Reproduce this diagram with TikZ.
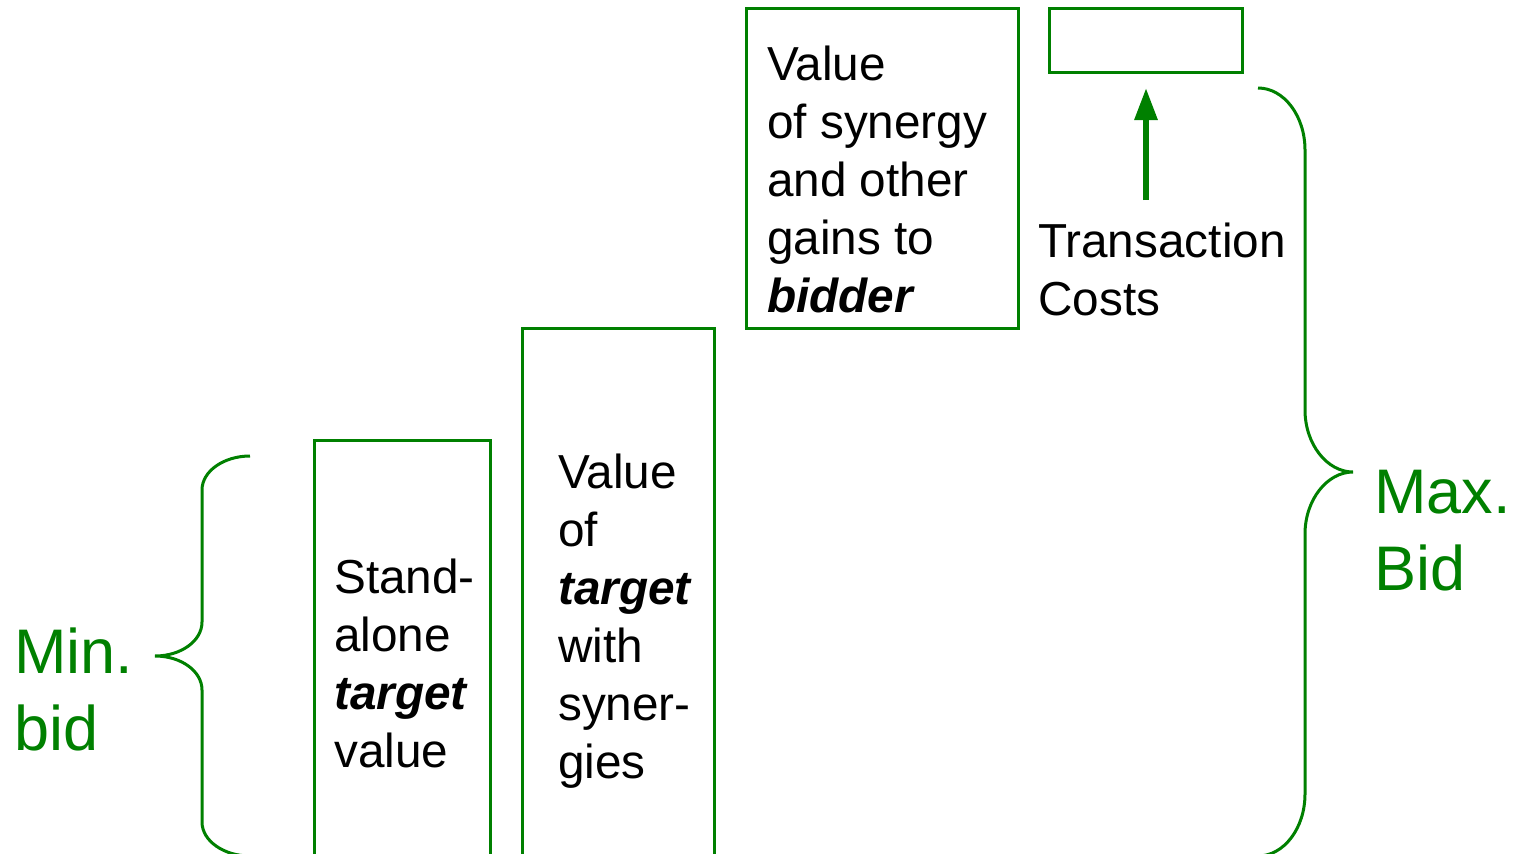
\documentclass[tikz,border=0pt]{standalone}
\usepackage{fontspec}
\setmainfont{Liberation Sans}
\usetikzlibrary{arrows.meta}
\definecolor{grn}{RGB}{0,128,0}
\begin{document}
\begin{tikzpicture}[x=1pt,y=-1pt,
  boxstyle/.style={draw=grn,line width=3pt,inner sep=0pt,outer sep=0pt,anchor=north west},
  txt/.style={anchor=base west,inner sep=0pt,font=\fontsize{47.7}{58}\selectfont},
  big/.style={anchor=base west,inner sep=0pt,text=grn,font=\fontsize{63}{77}\selectfont},
  brace/.style={draw=grn,line width=3pt}]
\useasboundingbox (0,0) rectangle (1518,854);
\clip (0,0) rectangle (1518,854);
% boxes
\node[boxstyle,minimum width=176pt,minimum height=470pt] (boxA) at (314,440) {};
\node[boxstyle,minimum width=192pt,minimum height=580pt] (boxB) at (522,328) {};
\node[boxstyle,minimum width=272pt,minimum height=320pt] (boxC) at (746,8) {};
\node[boxstyle,minimum width=193pt,minimum height=64pt] (boxD) at (1049,8) {};
% texts
\node[txt] (tA) at (334,593) {\begin{tabular}[t]{@{}l@{}}Stand-\\alone\\\textbf{\textit{target}}\\value\end{tabular}};
\node[txt] (tB) at (558,488) {\begin{tabular}[t]{@{}l@{}}Value\\of\\\textbf{\textit{target}}\\with\\syner-\\gies\end{tabular}};
\node[txt] (tC) at (767,80) {\begin{tabular}[t]{@{}l@{}}Value\\of synergy\\and other\\gains to\\\textbf{\textit{bidder}}\end{tabular}};
\node[txt] (tT) at (1038,257) {\begin{tabular}[t]{@{}l@{}}Transaction\\Costs\end{tabular}};
\node[big] (tMin) at (14,673) {\begin{tabular}[t]{@{}l@{}}Min.\\bid\end{tabular}};
\node[big] (tMax) at (1374,513) {\begin{tabular}[t]{@{}l@{}}Max.\\Bid\end{tabular}};
% arrow
\coordinate (as) at (1146,200);
\coordinate (ae) at (1146,88);
\draw[grn,line width=6pt,-{Triangle[width=22pt,length=32pt]}] (as) -- (ae);
% braces
\draw[brace] (250,456) .. controls (224,456) and (202,471) .. (202,490) -- (202,622)
  .. controls (202,641) and (181,656) .. (155,656)
  .. controls (181,656) and (202,671) .. (202,690) -- (202,822)
  .. controls (202,841) and (224,856) .. (250,856);
\draw[brace] (1258,88) .. controls (1284,88) and (1305,116) .. (1305,150) -- (1305,410)
  .. controls (1305,444) and (1327,472) .. (1353,472)
  .. controls (1327,472) and (1305,500) .. (1305,534) -- (1305,794)
  .. controls (1305,828) and (1284,856) .. (1258,856);
\end{tikzpicture}
\end{document}
